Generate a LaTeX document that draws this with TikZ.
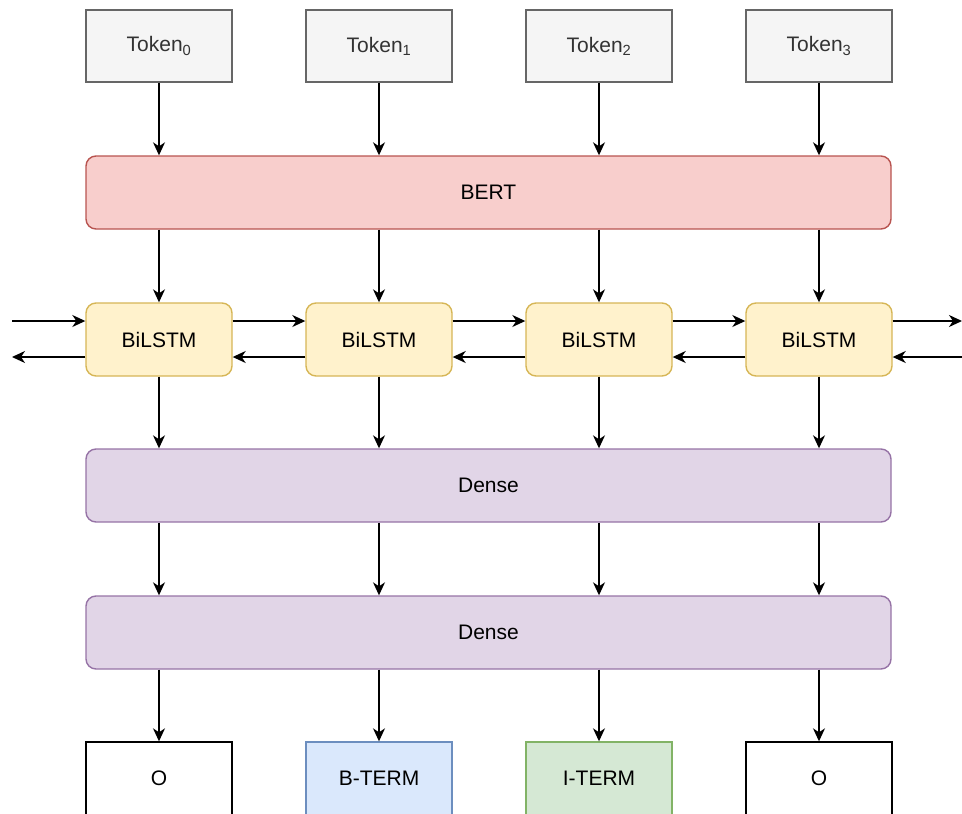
\documentclass[tikz,border=0pt]{standalone}
\usepackage{fontspec}
\setmainfont{Liberation Sans}
\usetikzlibrary{arrows.meta}
\definecolor{tokfill}{HTML}{F5F5F5}
\definecolor{tokdraw}{HTML}{666666}
\definecolor{toktext}{HTML}{333333}
\definecolor{bertfill}{HTML}{F8CECC}
\definecolor{bertdraw}{HTML}{B85450}
\definecolor{lstmfill}{HTML}{FFF2CC}
\definecolor{lstmdraw}{HTML}{D6B656}
\definecolor{densefill}{HTML}{E1D5E7}
\definecolor{densedraw}{HTML}{9673A6}
\definecolor{bfill}{HTML}{DAE8FC}
\definecolor{bdraw}{HTML}{6C8EBF}
\definecolor{ifill}{HTML}{D5E8D4}
\definecolor{idraw}{HTML}{82B366}
\tikzset{
  base/.style={minimum width=146pt, minimum height=73pt, inner sep=0pt, line width=1.4pt, font=\fontsize{21}{25}\selectfont, text=black},
  tokbox/.style={base, fill=tokfill, draw=tokdraw, text=toktext, minimum height=72pt},
  bertbox/.style={base, rounded corners=10pt, fill=bertfill, draw=bertdraw, minimum width=805pt},
  lstmbox/.style={base, rounded corners=10pt, fill=lstmfill, draw=lstmdraw},
  densebox/.style={base, rounded corners=10pt, fill=densefill, draw=densedraw, minimum width=805pt},
  obox/.style={base, fill=white, draw=black},
  bbox/.style={base, fill=bfill, draw=bdraw},
  ibox/.style={base, fill=ifill, draw=idraw},
  arr/.style={line width=1.5pt, -{Stealth[length=13pt, width=12pt, inset=4pt]}}
}
\begin{document}
\begin{tikzpicture}[x=1pt, y=-1pt]
\useasboundingbox (0,0) rectangle (962,814);
% tokens
\node[tokbox] (t0) at (159,46) {Token\textsubscript{0}};
\node[tokbox] (t1) at (379,46) {Token\textsubscript{1}};
\node[tokbox] (t2) at (599,46) {Token\textsubscript{2}};
\node[tokbox] (t3) at (819,46) {Token\textsubscript{3}};
% BERT
\node[bertbox] (bert) at (488.5,192.5) {BERT};
% BiLSTM
\node[lstmbox] (l0) at (159,339.5) {BiLSTM};
\node[lstmbox] (l1) at (379,339.5) {BiLSTM};
\node[lstmbox] (l2) at (599,339.5) {BiLSTM};
\node[lstmbox] (l3) at (819,339.5) {BiLSTM};
% Dense
\node[densebox] (d1) at (488.5,485.5) {Dense};
\node[densebox] (d2) at (488.5,632.5) {Dense};
% outputs
\node[obox] (o0) at (159,778.5) {O};
\node[bbox] (o1) at (379,778.5) {B-TERM};
\node[ibox] (o2) at (599,778.5) {I-TERM};
\node[obox] (o3) at (819,778.5) {O};
% vertical arrows
\foreach \i in {0,1,2,3}{
  \draw[arr] (t\i.south) -- (t\i.south |- bert.north);
  \draw[arr] (l\i.north |- bert.south) -- (l\i.north);
  \draw[arr] (l\i.south) -- (l\i.south |- d1.north);
  \draw[arr] (o\i.north |- d1.south) -- (o\i.north |- d2.north);
  \draw[arr] (o\i.north |- d2.south) -- (o\i.north);
}
% horizontal arrows
\coordinate (lin) at (12,321);
\coordinate (lout) at (12,357);
\coordinate (rout) at (962,321);
\coordinate (rin) at (962,357);
\draw[arr] (lin) -- (l0.west |- lin);
\draw[arr] (l0.west |- lout) -- (lout);
\draw[arr] (l3.east |- rout) -- (rout);
\draw[arr] (rin) -- (l3.east |- rin);
\foreach \a/\b in {0/1,1/2,2/3}{
  \draw[arr] (l\a.east |- lin) -- (l\b.west |- lin);
  \draw[arr] (l\b.west |- lout) -- (l\a.east |- lout);
}
\end{tikzpicture}
\end{document}
